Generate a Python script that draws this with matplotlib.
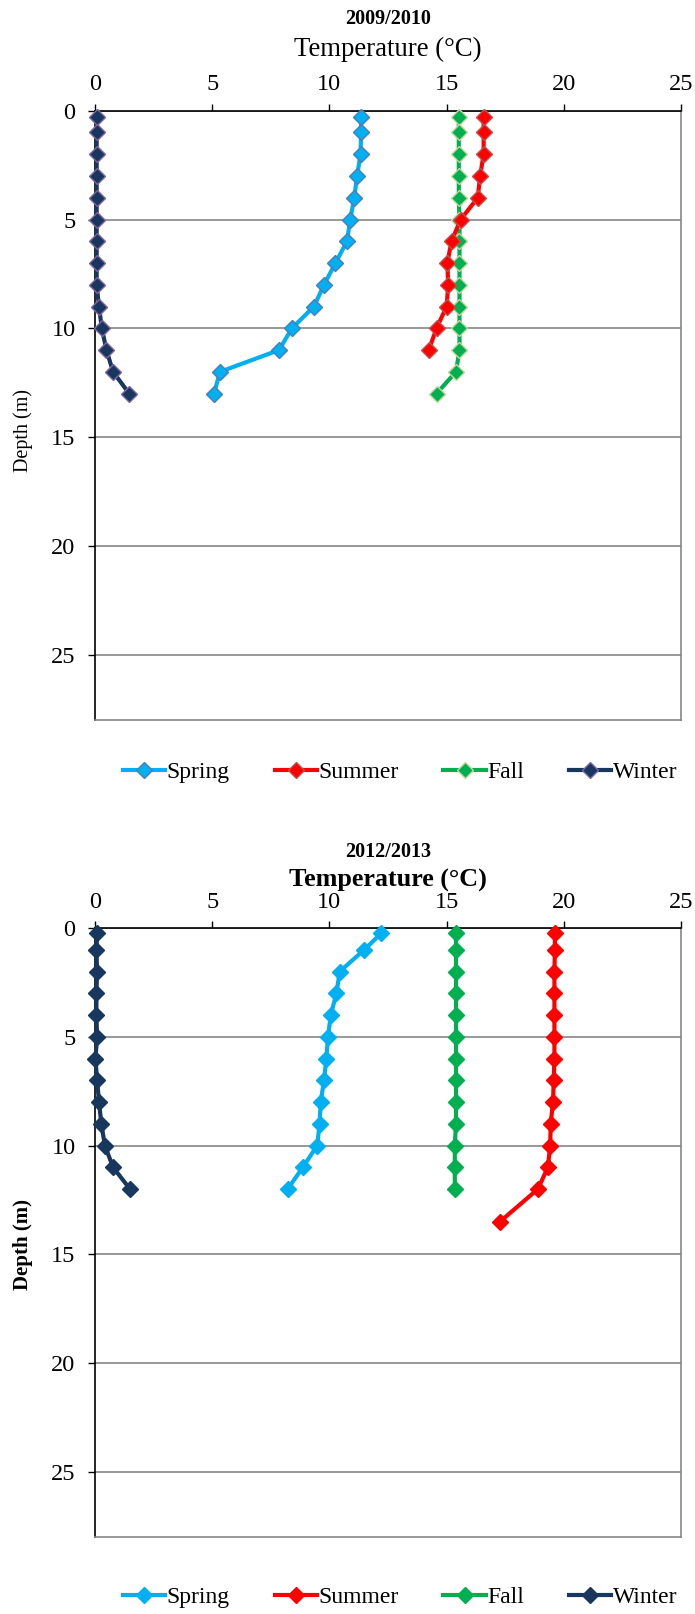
import matplotlib
matplotlib.use("Agg")
import matplotlib.pyplot as plt
from matplotlib.lines import Line2D

plt.rcParams['font.family'] = ['Liberation Serif', 'DejaVu Serif']

# ---------------- Data ----------------
seasons = ["Spring", "Summer", "Fall", "Winter"]
colors = {"Spring": "#00B0F0", "Summer": "#FF0000", "Fall": "#00B050", "Winter": "#17375E"}
edge_top = {"Spring": "#4A7EBB", "Summer": "#C0504D", "Fall": "#C3D69B", "Winter": "#8064A2"}

# 2009/2010
depth_09 = [0.3, 1, 2, 3, 4, 5, 6, 7, 8, 9, 10, 11, 12, 13]
spring_09 = [11.35, 11.35, 11.33, 11.18, 11.06, 10.89, 10.75, 10.26, 9.77, 9.34, 8.4, 7.85, 5.33, 5.08]
summer_09 = [16.58, 16.58, 16.58, 16.43, 16.33, 15.6, 15.21, 15.03, 15.07, 15.0, 14.57, 14.24]
fall_09 = [15.52, 15.52, 15.52, 15.52, 15.52, 15.55, 15.55, 15.55, 15.55, 15.55, 15.55, 15.55, 15.4, 14.57]
winter_09 = [0.07, 0.07, 0.07, 0.07, 0.07, 0.07, 0.07, 0.07, 0.07, 0.17, 0.29, 0.49, 0.77, 1.46]

# 2012/2013
depth_12 = [0.25, 1, 2, 3, 4, 5, 6, 7, 8, 9, 10, 11, 12]
depth_12_summer = [0.25, 1, 2, 3, 4, 5, 6, 7, 8, 9, 10, 11, 12, 13.5]
spring_12 = [12.2, 11.49, 10.44, 10.3, 10.06, 9.94, 9.87, 9.77, 9.63, 9.58, 9.48, 8.87, 8.22]
summer_12 = [19.62, 19.62, 19.6, 19.6, 19.6, 19.6, 19.6, 19.57, 19.54, 19.44, 19.42, 19.32, 18.9, 17.28]
fall_12 = [15.4, 15.4, 15.4, 15.4, 15.4, 15.4, 15.4, 15.4, 15.4, 15.4, 15.35, 15.35, 15.35]
winter_12 = [0.09, 0.06, 0.09, 0.06, 0.06, 0.09, 0.02, 0.09, 0.17, 0.27, 0.42, 0.77, 1.49]

xticks = [0, 5, 10, 15, 20, 25]
yticks = [0, 5, 10, 15, 20, 25]

W, H = 695, 1614
fig = plt.figure(figsize=(W / 100, H / 100), dpi=100)


def px_axes(left, top, right, bottom):
    return fig.add_axes([left / W, 1 - bottom / H, (right - left) / W, (bottom - top) / H])


def style_axes(ax):
    ax.set_xlim(0, 25)
    ax.set_ylim(28, 0)
    ax.xaxis.tick_top()
    ax.set_xticks(xticks)
    ax.set_yticks(yticks)
    ax.tick_params(axis='both', direction='out', length=5, width=1, labelsize=17.5, colors='black')
    ax.tick_params(axis='x', pad=6)
    ax.tick_params(axis='y', pad=9)
    ax.yaxis.grid(True, color='#868686', linewidth=1.2)
    ax.set_axisbelow(True)
    for sp in ['left', 'top']:
        ax.spines[sp].set_color('black')
        ax.spines[sp].set_linewidth(1.2)
    for sp in ['right', 'bottom']:
        ax.spines[sp].set_color('#868686')
        ax.spines[sp].set_linewidth(1.2)


def legend(y_px, edges):
    handles = []
    for s in seasons:
        handles.append(Line2D([], [], color=colors[s], lw=3, marker='D', ms=8,
                              mfc=colors[s], mec=edges[s], mew=1))
    fig.legend(handles, seasons, loc='center', bbox_to_anchor=(400 / W, 1 - y_px / H),
               ncol=4, frameon=False, fontsize=17, handlelength=1.8, handletextpad=0.05,
               columnspacing=1.9)


# ---------- Top panel ----------
ax1 = px_axes(95, 110.7, 681, 720)
style_axes(ax1)
series_09 = {"Spring": (spring_09, depth_09), "Summer": (summer_09, depth_09[:len(summer_09)]),
             "Fall": (fall_09, depth_09), "Winter": (winter_09, depth_09)}
for s in ["Winter", "Fall", "Summer", "Spring"]:
    xv, yv = series_09[s]
    ax1.plot(xv, yv, color=colors[s], lw=3, marker='D', ms=8, mfc=colors[s],
             mec=edge_top[s], mew=1, clip_on=False, zorder=3)
fig.text(388 / W, 1 - 19 / H, "2009/2010", ha='center', va='center', fontsize=14.5, fontweight='bold')
fig.text(388 / W, 1 - 49 / H, "Temperature (\u00b0C)", ha='center', va='center', fontsize=19.3)
fig.text(23 / W, 1 - 430 / H, "Depth (m)", ha='center', va='center', fontsize=14.5, rotation=90)
legend(772, edge_top)

# ---------- Bottom panel ----------
ax2 = px_axes(95, 928, 681, 1537)
style_axes(ax2)
series_12 = {"Spring": (spring_12, depth_12), "Summer": (summer_12, depth_12_summer),
             "Fall": (fall_12, depth_12), "Winter": (winter_12, depth_12)}
for s in ["Winter", "Fall", "Summer", "Spring"]:
    xv, yv = series_12[s]
    ax2.plot(xv, yv, color=colors[s], lw=3, marker='D', ms=8, mfc=colors[s],
             mec=colors[s], mew=1, clip_on=False, zorder=3)
fig.text(388 / W, 1 - 852 / H, "2012/2013", ha='center', va='center', fontsize=14.5, fontweight='bold')
fig.text(388 / W, 1 - 880 / H, "Temperature (\u00b0C)", ha='center', va='center', fontsize=18.8, fontweight='bold')
fig.text(23 / W, 1 - 1245 / H, "Depth (m)", ha='center', va='center', fontsize=15,
         fontweight='bold', rotation=90)
legend(1597, colors)

fig.savefig("out.png", dpi=100)
